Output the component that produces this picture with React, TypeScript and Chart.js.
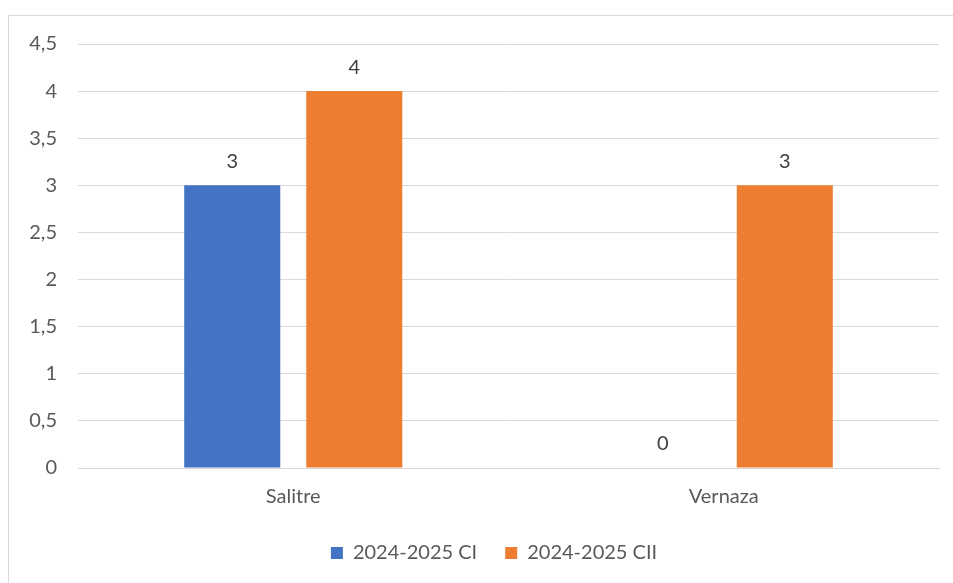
import React, { useEffect, useRef } from "react";
import { Chart, registerables } from "chart.js";

Chart.register(...registerables);

const categories = ["Salitre", "Vernaza"];
const seriesNames = ["2024-2025 CI", "2024-2025 CII"];
const ciValues = [3, 0];
const ciiValues = [4, 3];
const yMax = 4.5;
const yStep = 0.5;

const FONT = "Lato, 'Noto Sans', sans-serif";
const SIZE = 20;
const TEXT = "#595959";
const GRID = "#d9d9d9";

// Writes each bar's value just above its top edge.
const valueLabels = {
  id: "valueLabels",
  afterDatasetsDraw(chart: any) {
    const ctx = chart.ctx;
    ctx.save();
    ctx.font = `${SIZE}px ${FONT}`;
    ctx.fillStyle = "#404040";
    ctx.textAlign = "center";
    ctx.textBaseline = "middle";
    chart.data.datasets.forEach((ds: any, i: number) => {
      const meta = chart.getDatasetMeta(i);
      meta.data.forEach((bar: any, j: number) => {
        const v = ds.data[j];
        ctx.fillText(String(v).replace(".", ","), bar.x, bar.y - 24);
      });
    });
    ctx.restore();
  },
};

export default function App() {
  const ref = useRef<HTMLCanvasElement>(null);

  useEffect(() => {
    document.body.style.overflow = "hidden";
    const chart = new Chart(ref.current!, {
      type: "bar",
      data: {
        labels: categories,
        datasets: [
          {
            label: seriesNames[0],
            data: ciValues,
            backgroundColor: "#4472c4",
            categoryPercentage: 0.567,
            barPercentage: 0.787,
          },
          {
            label: seriesNames[1],
            data: ciiValues,
            backgroundColor: "#ed7d31",
            categoryPercentage: 0.567,
            barPercentage: 0.787,
          },
        ],
      },
      options: {
        animation: false,
        responsive: false,
        layout: { padding: { top: 44, right: 0, bottom: 10, left: 0 } },
        scales: {
          x: {
            grid: { display: false, drawTicks: false },
            border: { color: GRID, width: 1 },
            ticks: { color: TEXT, font: { family: FONT, size: SIZE }, padding: 17 },
            afterFit: (scale: any) => {
              scale.height = 47;
            },
          },
          y: {
            min: 0,
            max: yMax,
            grid: { color: GRID, lineWidth: 1, drawTicks: false },
            border: { display: false },
            ticks: {
              stepSize: yStep,
              color: TEXT,
              font: { family: FONT, size: SIZE },
              padding: 21,
              callback: (v: any) => String(v).replace(".", ","),
            },
            afterFit: (scale: any) => {
              scale.width = 78;
            },
          },
          // empty right-hand margin of the frame
          yRight: {
            position: "right",
            min: 0,
            max: yMax,
            grid: { display: false, drawTicks: false },
            border: { display: false },
            ticks: { display: false },
            afterFit: (scale: any) => {
              scale.width = 49;
            },
          },
        },
        plugins: {
          legend: {
            position: "bottom",
            labels: {
              color: TEXT,
              font: { family: FONT, size: SIZE },
              boxWidth: 12,
              boxHeight: 12,
              padding: 28,
            },
          },
          tooltip: { enabled: false },
        },
      },
      plugins: [valueLabels],
    });
    return () => chart.destroy();
  }, []);

  return (
    <div>
      <div
        style={{
          position: "fixed",
          left: 8,
          top: 15,
          width: 1000,
          height: 1000,
          border: `1px solid ${GRID}`,
          background: "#fff",
        }}
      />
      <canvas
        ref={ref}
        width={988}
        height={583}
        style={{ position: "fixed", left: 0, top: 0, width: 988, height: 583 }}
      />
    </div>
  );
}
